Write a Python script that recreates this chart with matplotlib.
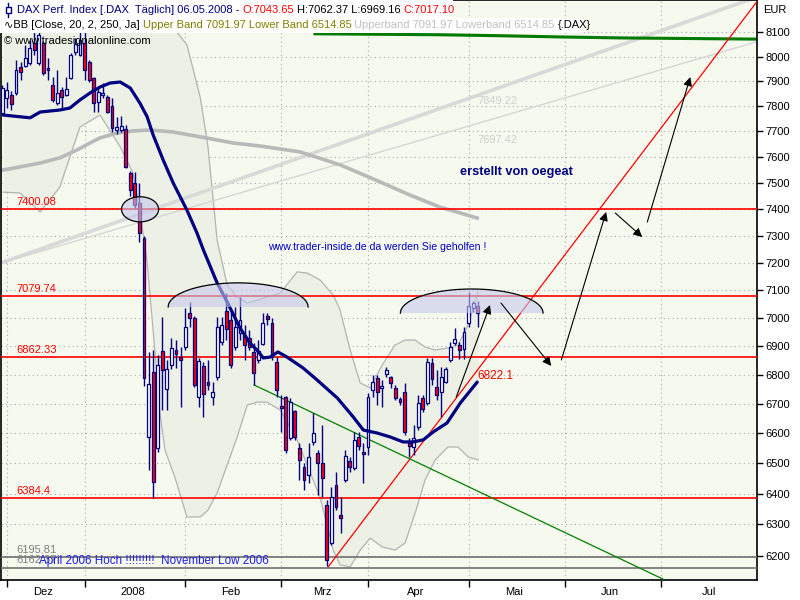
import numpy as np
import matplotlib
matplotlib.use("Agg")
import matplotlib.pyplot as plt
from matplotlib.patches import Rectangle
from matplotlib.lines import Line2D
from matplotlib.ticker import NullLocator

# ----- #
# DATA  #
# ----- #

# daily bars, trading-day index -1 = 30.11.2007 ... 103 = 06.05.2008
open_ = [7773, 7833, 7845, 7853, 7958, 7962, 7974, 8056, 7974, 8056, 7954, 7885, 7813, 7865, 7845,
         7913, 8019, 8007, 8056, 7978, 7913, 7817, 7845, 7837, 7801, 7706, 7706, 7710, 7539, 7500,
         7424, 7292, 6588, 6810, 6551, 6883, 6751, 6834, 6887, 6862, 6897, 7018, 7000, 6724, 6831,
         6775, 6724, 6793, 6915, 7025, 6993, 6897, 6947, 6940, 6929, 6880, 6852, 6908, 7007, 6982,
         6845, 6693, 6724, 6585, 6676, 6551, 6488, 6461, 6571, 6534, 6501, 6362, 6240, 6429, 6330,
         6445, 6508, 6485, 6588, 6538, 6554, 6748, 6789, 6755, 6803, 6793, 6755, 6717, 6741, 6568,
         6554, 6621, 6720, 6703, 6841, 6758, 6741, 6775, 6852, 6911, 6904, 6890, 6982, 7036, 7043.65]
high_ = [7885, 7897, 7861, 7986, 7978, 8048, 8068, 8102, 8110, 8064, 7994, 7917, 7946, 7877, 7917,
         8015, 8076, 8110, 8102, 7986, 7917, 7873, 7893, 7845, 7833, 7758, 7762, 7726, 7546, 7543,
         7500, 7300, 6880, 6887, 6869, 7004, 6852, 6929, 6922, 6897, 7036, 7058, 7007, 6859, 6845,
         6852, 6775, 7004, 7004, 7090, 7022, 7040, 7076, 6975, 6958, 6911, 6922, 7018, 7018, 7000,
         6862, 6731, 6727, 6720, 6679, 6568, 6501, 6568, 6669, 6544, 6628, 6379, 6422, 6471, 6389,
         6544, 6521, 6605, 6605, 6568, 6738, 6800, 6800, 6782, 6827, 6796, 6765, 6724, 6772, 6585,
         6628, 6731, 6731, 6859, 6859, 6817, 6827, 6827, 6915, 6965, 6915, 6968, 7094, 7061, 7062.37]
low_ = [7765, 7793, 7785, 7845, 7905, 7958, 7966, 8007, 7966, 7926, 7905, 7817, 7805, 7785, 7841,
        7909, 8007, 8003, 7905, 7897, 7777, 7777, 7833, 7773, 7698, 7690, 7698, 7558, 7450, 7405,
        7278, 6762, 6478, 6386, 6538, 6679, 6679, 6820, 6824, 6689, 6887, 6968, 6758, 6689, 6655,
        6748, 6696, 6782, 6904, 6922, 6824, 6887, 6922, 6852, 6887, 6765, 6841, 6904, 6975, 6852,
        6724, 6605, 6534, 6578, 6578, 6445, 6412, 6435, 6561, 6396, 6389, 6168, 6234, 6346, 6272,
        6438, 6471, 6478, 6544, 6435, 6528, 6724, 6696, 6689, 6793, 6755, 6713, 6696, 6595, 6521,
        6528, 6611, 6672, 6696, 6765, 6713, 6655, 6772, 6845, 6904, 6855, 6855, 6968, 7022, 6969.16]
close_ = [7873, 7865, 7809, 7946, 7938, 7994, 8036, 8028, 8089, 7934, 7946, 7825, 7853, 7837, 7869,
          8007, 8052, 8068, 7946, 7905, 7813, 7857, 7853, 7777, 7714, 7718, 7722, 7562, 7473, 7416,
          7311, 6789, 6769, 6438, 6834, 6817, 6820, 6894, 6873, 6852, 6968, 7000, 6765, 6848, 6734,
          6765, 6741, 6968, 6975, 6961, 6834, 6968, 6993, 6904, 6897, 6806, 6883, 6982, 6997, 6862,
          6748, 6686, 6544, 6706, 6588, 6511, 6445, 6521, 6601, 6501, 6452, 6187, 6389, 6356, 6320,
          6524, 6488, 6578, 6558, 6531, 6724, 6775, 6741, 6762, 6817, 6772, 6720, 6706, 6605, 6558,
          6585, 6703, 6683, 6845, 6786, 6731, 6793, 6820, 6897, 6926, 6887, 6951, 7043, 7054, 7017.10]

# first trading day of each month (bar index) and month labels
month_start = [0, 17, 39, 60, 79, 101, 122, 143]
month_names = ["Dez", "2008", "Feb", "Mrz", "Apr", "Mai", "Jun", "Jul"]

# thick navy average
ma_idx = [-0.8, 5.1, 7.3, 11.6, 13.8, 16.0, 18.2, 20.4, 22.6, 24.8, 27.0, 29.1, 30.7, 32.0, 34.2,
          36.4, 39.4, 41.6, 43.0, 46.0, 48.2, 51.0, 53.2, 54.7, 56.1, 57.6, 59.3, 61.3, 64.8, 67.9,
          72.3, 75.8, 78.0, 81.0, 83.8, 86.7, 88.9, 91.1, 93.3, 96.3, 99.2, 102.9]
ma_val = [7765, 7754, 7777, 7785, 7793, 7825, 7853, 7877, 7893, 7897, 7873, 7813, 7758, 7687, 7589,
          7500, 7397, 7311, 7248, 7127, 7058, 6965, 6911, 6887, 6859, 6862, 6880, 6862, 6824, 6782,
          6720, 6655, 6611, 6601, 6588, 6571, 6571, 6578, 6605, 6635, 6703, 6775]
ma_label = "6822.1"

# thick grey long average
slow_idx = [-0.8, 2.9, 7.3, 11.6, 15.4, 18.2, 20.4, 24.1, 27.6, 31.3, 36.4, 42.3, 49.5, 55.4,
            64.2, 72.9, 81.7, 88.2, 94.8, 99.2, 102.9]
slow_val = [7550, 7562, 7577, 7597, 7628, 7655, 7675, 7694, 7702, 7706, 7698, 7679, 7655, 7643,
            7620, 7570, 7504, 7454, 7408, 7386, 7367]

# bollinger bands
band_idx = [-0.8, 2.9, 7.3, 11.6, 16.0, 20.4, 24.8, 27.6, 29.2, 30.7, 32.0, 33.5, 34.6, 36.8,
            39.4, 42.3, 44.0, 46.0, 48.2, 50.4, 52.6, 54.8, 56.9, 59.8, 63.5, 65.7, 68.5, 71.4,
            72.9, 75.1, 77.3, 79.5, 82.1, 84.9, 87.1, 89.3, 91.5, 93.7, 96.5, 98.7, 100.9, 103.1]
band_up = [8144, 8152, 8173, 8186, 8194, 8194, 8186, 8173, 8161, 8152, 8144, 8135, 8127, 8110,
           8048, 7837, 7640, 7285, 7120, 7076, 7054, 7065, 7076, 7090, 7167, 7163, 7138, 7083,
           7029, 6887, 6772, 6755, 6834, 6904, 6922, 6922, 6897, 6887, 6894, 6904, 6975, 7094]
band_lo = [7465, 7462, 7390, 7485, 7718, 7765, 7640, 7539, 7386, 7200, 6958, 6669, 6544, 6452,
           6324, 6324, 6346, 6402, 6494, 6588, 6696, 6706, 6706, 6679, 6578, 6494, 6389, 6218,
           6171, 6165, 6218, 6256, 6228, 6218, 6240, 6336, 6445, 6511, 6554, 6554, 6521, 6511]

# horizontal levels
red_levels = [7400.08, 7079.74, 6862.33, 6384.4]
red_labels = ["7400.08", "7079.74", "6862.33", "6384.4"]
grey_levels = [6195.81, 6162.37]
grey_labels = ["6195.81", "6162.37"]

# drawn trend lines (index, price) end points
trend_wide = ([-0.83, 164.2], [7203, 8248])
trend_thin = ([-1.49, 164.2], [7199, 8062])
trend_labels = ["7849.22", "7697.42"]
green_top = ([67.4, 94.7, 107.8, 121.0, 134.1, 164.2], [8094, 8090, 8086, 8081, 8077, 8072])
red_trend = ([70.3, 164.2], [6165, 8231])
green_trend = ([54.1, 143.6], [6765, 6126])

# arrows: start -> end
arrows = [((98.3, 6723), (105.7, 7047)),
          ((108.1, 7054), (119.1, 6831)),
          ((121.3, 6852), (131.1, 7390)),
          ((133.1, 7386), (139.0, 7296)),
          ((140.1, 7352), (149.5, 7917))]

# shapes (centre index, centre price, half width in bars, half height in log units)
ring = (29.15, 7400, 4.05, 0.0064)
domes = [(50.6, 7040, 15.3, 0.0123), (101.7, 7018, 15.6, 0.0123)]

BG = "#F6F9EE"
NAVY = "#000080"
plt.rcParams["font.family"] = ["Liberation Sans", "DejaVu Sans"]

fig = plt.figure(figsize=(8, 6), dpi=100, facecolor="white")
ax = fig.add_axes([1 / 800, 20 / 600, 756 / 800, 580 / 600], facecolor=BG)
ax.set_yscale("log")


def fx(px):
    return px / 800


def fy(py):
    return 1 - py / 600


# --- bands --- #
ax.fill_between(band_idx, band_lo, band_up, color="#EDF0E5", lw=0, zorder=1)
ax.plot(band_idx, band_up, color="#B4B4B4", lw=0.9, zorder=2)
ax.plot(band_idx, band_lo, color="#B4B4B4", lw=0.9, zorder=2)

# --- trend lines --- #
ax.plot(*trend_wide, color="#D9D9D9", lw=2.6, zorder=2)
ax.plot(*trend_thin, color="#D6D6D6", lw=1.0, zorder=2)
ax.plot(*green_top, color="#007A00", lw=2.2, zorder=2)
ax.plot(slow_idx, slow_val, color="#B9B9B9", lw=2.6, zorder=2)
ax.text(102.9, 7821, trend_labels[0], color="#CFCFCF", fontsize=8, va="center", zorder=2)
ax.text(102.9, 7668, trend_labels[1], color="#CFCFCF", fontsize=8, va="center", zorder=2)

# --- levels --- #
for lvl, lab in zip(red_levels, red_labels):
    ax.axhline(lvl, color="red", lw=1.2, zorder=3)
    ax.text(2.0, lvl * 1.0012, lab, color="red", fontsize=8, va="bottom", zorder=3)
for lvl, lab in zip(grey_levels, grey_labels):
    ax.axhline(lvl, color="#707070", lw=1.2, zorder=3)
    ax.text(2.0, lvl * 1.0012, lab, color="#808080", fontsize=8, va="bottom", zorder=3)

ax.plot(*red_trend, color="red", lw=0.9, zorder=3)
ax.plot(*green_trend, color="#008000", lw=0.9, zorder=3)

# --- candles --- #
o = np.array(open_)
h = np.array(high_)
l = np.array(low_)
c = np.array(close_)
bar_idx = np.arange(-1, -1 + len(c))
lo_body = np.minimum(o, c)
hi_body = np.maximum(o, c)
ax.vlines(bar_idx, l, h, color=NAVY, lw=1.0, zorder=4)
ax.bar(bar_idx, hi_body - lo_body, bottom=lo_body, width=0.62,
       color=np.where(c >= o, "white", "red"), edgecolor=NAVY, linewidth=0.9, zorder=5)

# --- averages --- #
ax.plot(ma_idx, ma_val, color=NAVY, lw=2.3, zorder=6, solid_capstyle="round")
ax.text(ma_idx[-1], 6796, ma_label, color="red", fontsize=8.5, va="center", zorder=6)

# --- shapes --- #
t = np.linspace(0, 2 * np.pi, 100)
cx, cy, a, b = ring
ax.fill(cx + a * np.cos(t), cy * np.exp(b * np.sin(t)), fc="#C4C9EC", alpha=0.6,
        lw=0, zorder=7)
ax.plot(cx + a * np.cos(t), cy * np.exp(b * np.sin(t)), color="black", lw=0.9, zorder=7)
th = np.linspace(0, np.pi, 80)
for cx, cy, a, b in domes:
    xs = cx + a * np.cos(th)
    ys = cy * np.exp(b * np.sin(th))
    ax.fill(xs, ys, fc="#C4C9EC", alpha=0.6, lw=0, zorder=7)
    ax.plot(xs, ys, color="black", lw=0.9, zorder=7)

# --- arrows --- #
for start, end in arrows:
    ax.annotate("", xy=end, xytext=start,
                arrowprops=dict(arrowstyle="-|>", color="black", lw=0.8,
                                mutation_scale=13, shrinkA=0, shrinkB=0), zorder=8)

# --- notes --- #
ax.text(57.2, 7259, "www.trader-inside.de da werden Sie geholfen !", color="#0000CC",
        fontsize=7.6, va="center", zorder=8)
ax.text(99.2, 7542, "erstellt von oegeat", color=NAVY, fontsize=9.2, fontweight="bold",
        va="center", zorder=8)
ax.text(7.05, 6183, "April 2006 Hoch !!!!!!!!!  November Low 2006", color="#1E1EF0",
        fontsize=8.4, va="center", zorder=8)

# --- axes --- #
ax.set_xlim(-1.27, 164.1)
ax.set_ylim(6123.6, 8234.9)
ax.yaxis.tick_right()
yt = list(range(6200, 8200, 100))
ax.set_yticks(yt, [str(v) for v in yt])
ax.yaxis.set_minor_locator(NullLocator())
ax.tick_params(axis="y", which="major", direction="out", length=4, width=1, pad=2,
               labelsize=8, colors="black")
mids = [(s + e) / 2 - 0.5 for s, e in zip(month_start, month_start[1:] + [165])]
ax.set_xticks(month_start, [""] * len(month_start))
ax.set_xticks(mids, month_names, minor=True)
ax.tick_params(axis="x", which="major", direction="out", length=5, width=1)
ax.tick_params(axis="x", which="minor", length=0, pad=5, labelsize=8)
ax.grid(axis="y", which="major", color="#A8A8A8", ls=(0, (1, 3)), lw=0.8, zorder=0)
ax.grid(axis="x", which="major", color="#A8A8A8", ls=(0, (1, 3)), lw=0.8, zorder=0)
ax.set_axisbelow(True)
for sp in ax.spines.values():
    sp.set_color("black")
    sp.set_linewidth(1.2)

# --- header --- #
ax.add_patch(Rectangle((0, fy(18)), fx(453), 18 / 600, transform=fig.transFigure,
                       fc="white", ec="none", zorder=9, clip_on=False))
ax.add_patch(Rectangle((0, fy(33)), fx(583), 15 / 600, transform=fig.transFigure,
                       fc="white", ec="none", zorder=9, clip_on=False))
ax.add_line(Line2D([fx(8), fx(8)], [fy(3), fy(17)], transform=fig.transFigure,
                   color=NAVY, lw=1, zorder=10))
ax.add_patch(Rectangle((fx(5.5), fy(13)), 5 / 800, 6 / 600, transform=fig.transFigure,
                       fc="white", ec=NAVY, lw=1, zorder=11, clip_on=False))


def text_run(px, py, parts, size=8):
    prev = ax.text(fx(px), fy(py), parts[0][0], color=parts[0][1], fontsize=size,
                   va="center", ha="left", transform=fig.transFigure, zorder=12)
    for s, col in parts[1:]:
        prev = ax.annotate(s, xy=(1, 0), xycoords=prev, xytext=(3, 0),
                           textcoords="offset pixels", va="bottom", ha="left",
                           color=col, fontsize=size, annotation_clip=False, zorder=12)


text_run(17, 10, [("DAX Perf. Index [.DAX  Täglich] 06.05.2008 -", NAVY),
                  ("O:7043.65", "red"), ("H:7062.37 L:6969.16", "black"),
                  ("C:7017.10", "red")])
text_run(4, 25, [("∿BB [Close, 20, 2, 250, Ja]", "black"),
                 ("Upper Band 7091.97 Lower Band 6514.85", "#808000"),
                 ("Upperband 7091.97 Lowerband 6514.85", "#C0C0C0"),
                 ("{.DAX}", "black")])
ax.text(fx(4), fy(41), "© www.tradesignalonline.com", color="black", fontsize=8,
        va="center", ha="left", transform=fig.transFigure, zorder=12)
ax.text(fx(763), fy(10), "EUR", color="black", fontsize=8, va="center", ha="left",
        transform=fig.transFigure, zorder=12)

fig.savefig("out.png", dpi=100, facecolor="white")
